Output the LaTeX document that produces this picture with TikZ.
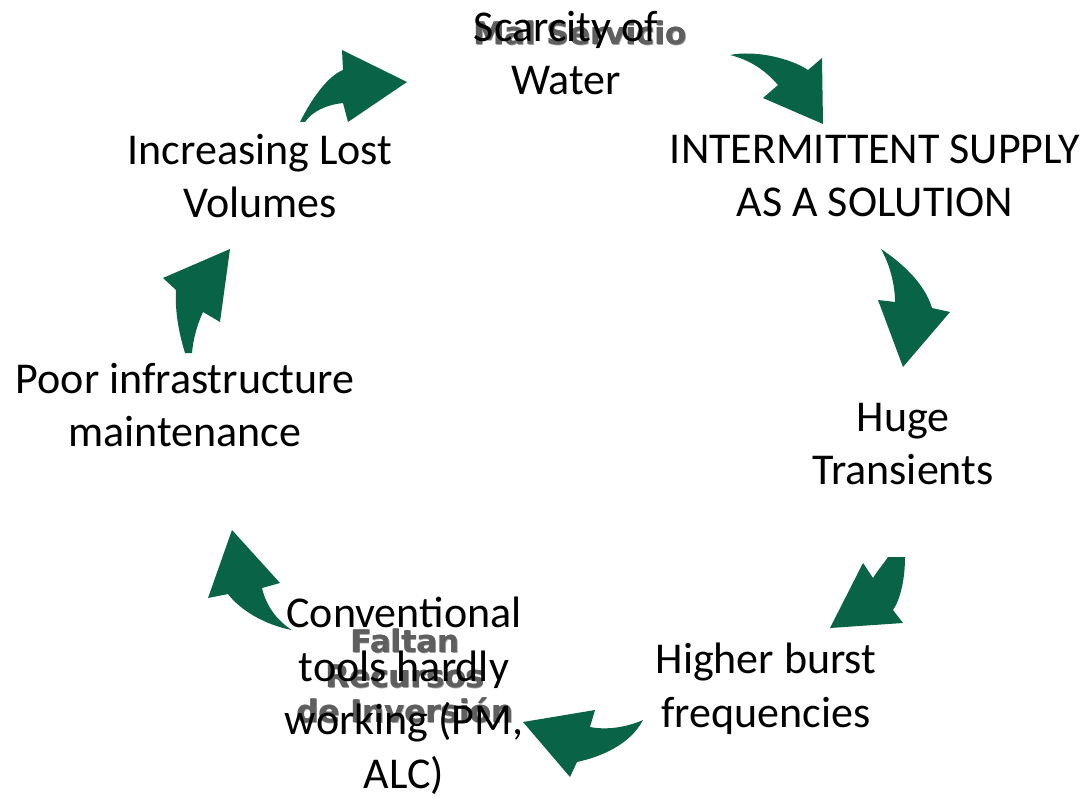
\documentclass[tikz,border=0pt]{standalone}
\usepackage{fontspec}
\setmainfont{Carlito}
\newfontfamily\ghostfont{DejaVu Sans}
\definecolor{arrowgreen}{RGB}{9,99,70}
\definecolor{ghostgray}{RGB}{95,95,95}
\definecolor{ghostshade}{RGB}{160,160,160}
\tikzset{
  lbl/.style={font=\fontsize{44}{53.5}\selectfont, align=center, inner sep=0pt, text=black},
  ghost/.style={font=\ghostfont\bfseries\fontsize{31}{35}\selectfont, align=center, inner sep=0pt, text=ghostgray},
  ghostsh/.style={ghost, text=ghostshade},
  arr/.style={fill=arrowgreen, draw=none}
}
\begin{document}
\begin{tikzpicture}[x=1pt,y=-1pt]
\fill[white] (0,0) rectangle (1086,799);
\useasboundingbox (0,0) rectangle (1086,799);

% ghost labels (behind), with a soft halo
\node[ghostsh] (malsh) at (581,34) {Mal Servicio};
\node[ghost] (mal) at (580,33) {Mal Servicio};
\node[ghost] (malb) at (580.6,33.4) {Mal Servicio};
\node[ghostsh] (faltsh) at (406,677) {Faltan\\Recursos\\de Inversión};
\node[ghost] (falt) at (405,676) {Faltan\\Recursos\\de Inversión};
\node[ghost] (faltb) at (405.6,676.4) {Faltan\\Recursos\\de Inversión};

% arrows
\fill[arr] (300,122) .. controls (312,98) and (328,76) .. (343,70) -- (342,50) -- (407,82) -- (348,122) -- (343,103) .. controls (325,105) and (312,112) .. (305,122) -- cycle;
\fill[arr] (730,55) .. controls (755,50) and (790,58) .. (808,70) -- (822,58) -- (823,124) -- (763,98) -- (778,85) .. controls (765,70) and (750,60) .. (730,55) -- cycle;
\fill[arr] (881,249) .. controls (905,265) and (925,285) .. (932,308) -- (950,312) -- (903,367) -- (878,300) -- (895,302) .. controls (895,285) and (890,265) .. (881,249) -- cycle;
\fill[arr] (888,557) -- (905,557) .. controls (905,580) and (900,600) .. (893,610) -- (903,623) -- (830,628) -- (863,563) -- (873,578) .. controls (878,570) and (884,563) .. (888,557) -- cycle;
\fill[arr] (643,720) .. controls (625,728) and (605,730) .. (590,727) -- (595,710) -- (523,722) -- (570,777) -- (577,762) .. controls (600,757) and (630,745) .. (643,720) -- cycle;
\fill[arr] (232,530) -- (280,583) -- (262,588) .. controls (266,605) and (276,620) .. (292,630) .. controls (265,625) and (240,610) .. (228,594) -- (208,598) -- cycle;
\fill[arr] (230,249) -- (220,322) -- (203,312) .. controls (197,325) and (193,340) .. (192,353) -- (185,353) .. controls (178,330) and (175,310) .. (176,290) -- (163,278) -- cycle;

% main labels
\node[lbl] (scarcity) at (566,53) {Scarcity of\\Water};
\node[lbl] (intermittent) at (875,176) {INTERMITTENT SUPPLY\\AS A SOLUTION};
\node[lbl] (huge) at (903,444) {Huge\\Transients};
\node[lbl] (burst) at (766,689) {Higher burst\\frequencies};
\node[lbl] (tools) at (404,696) {Conventional\\tools hardly\\working (PM,\\ALC)};
\node[lbl] (poor) at (185,405) {Poor infrastructure\\maintenance};
\node[lbl] (lost) at (260,176) {Increasing Lost\\Volumes};
\end{tikzpicture}
\end{document}
